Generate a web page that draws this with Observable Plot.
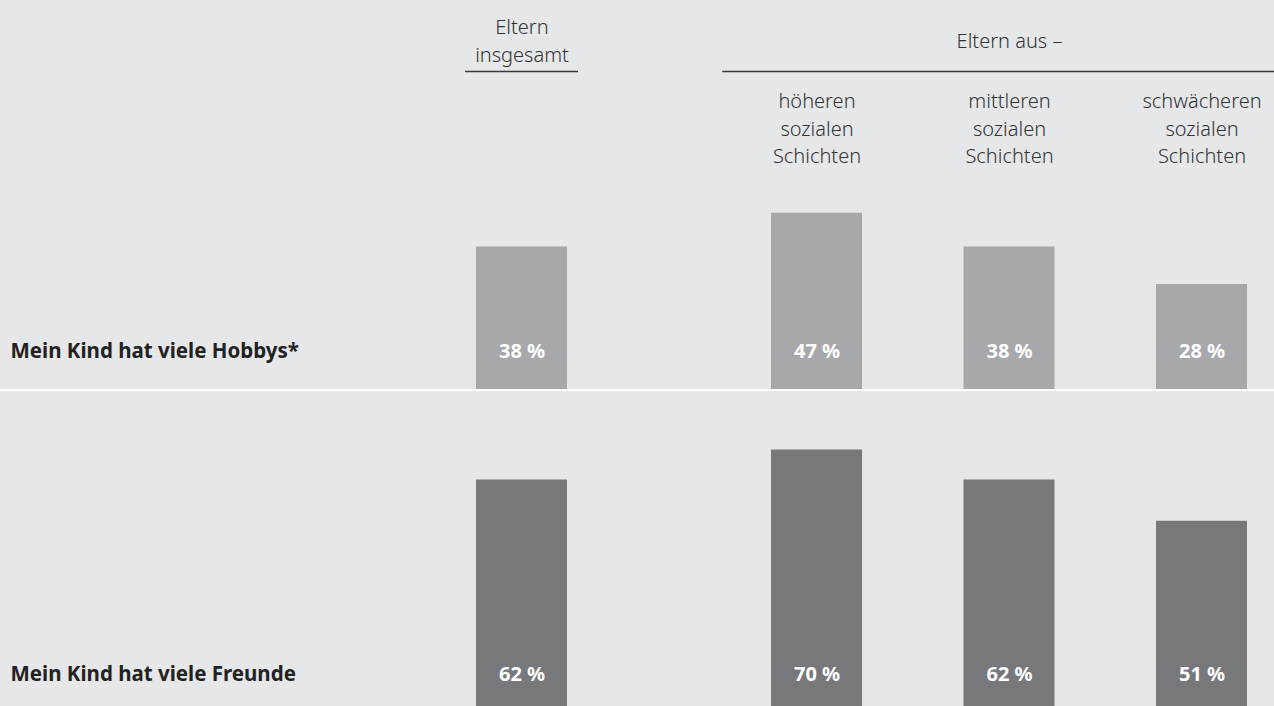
<!DOCTYPE html>
<html>
<head>
<meta charset="utf-8">
<script src="https://cdn.jsdelivr.net/npm/d3@7"></script>
<script src="https://cdn.jsdelivr.net/npm/@observablehq/plot@0.6"></script>
<style>
  html, body { margin: 0; padding: 0; background: #e6e7e9; }
  #chart { width: 1274px; height: 706px; overflow: hidden; background: #e6e7e9; }
  #chart svg { display: block; overflow: hidden; }
  .sep { height: 2px; background: #ffffff; }
</style>
</head>
<body>
<div id="chart"></div>
<script>
// ---- data ----
const columns = ["Eltern insgesamt", "höheren sozialen Schichten", "mittleren sozialen Schichten", "schwächeren sozialen Schichten"];
const columnLabels = ["", "höheren\nsozialen\nSchichten", "mittleren\nsozialen\nSchichten", "schwächeren\nsozialen\nSchichten"];
const columnGroup = [0, 1, 1, 1];
const groupLabels = ["Eltern\ninsgesamt", "Eltern aus –"];
const rowLabels = ["Mein Kind hat viele Hobbys*", "Mein Kind hat viele Freunde"];
const hobbys = [38, 47, 38, 28];
const freunde = [62, 70, 62, 51];

// ---- layout ----
const BG = "#e6e7e9";
const LIGHT = "#a7a8ab";
const DARK = "#77787c";
const FONT = "Noto Sans, Lato, sans-serif";
const FS = 20;
const FSB = 20.5;
const PX_PER_PCT = 3.75;
const GROUP_GAP = 0.5325;     // extra gap (in column steps) between groups
const HALF_BAR = 0.2364;      // half bar width in column steps
const slot = i => i + columnGroup[i] * GROUP_GAP;
const lastSlot = slot(columns.length - 1);

function rowData(values) {
  return values.map((v, i) => ({col: columns[i], i, value: v}));
}

const groups = groupLabels.map((g, gi) => {
  const idx = columnGroup.map((c, i) => c === gi ? i : -1).filter(i => i >= 0);
  const a = slot(idx[0]), b = slot(idx[idx.length - 1]);
  return {label: g, center: (a + b) / 2, first: a, last: b, single: idx.length === 1};
});

function rowPlot({values, label, fill, height, extent, header}) {
  const data = rowData(values);
  const yMax = extent / PX_PER_PCT;
  const marks = [
    Plot.rectY(data, {x1: d => slot(d.i) - HALF_BAR, x2: d => slot(d.i) + HALF_BAR, y: "value", fill}),
    Plot.text(data, {x: d => slot(d.i), y: d => 0, dy: -38, text: d => `${d.value} %`,
      fill: "white", fontWeight: "bold", fontSize: FS}),
    Plot.text([label], {frameAnchor: "left", y: d => 0, dx: 10, dy: -38, text: d => d,
      textAnchor: "start", fill: "#222", fontWeight: "bold", fontSize: FSB})
  ];
  if (header) {
    const g0 = [groups[0]], g1 = [groups[1]];
    marks.push(
      Plot.text(g0, {x: "center", frameAnchor: "top", lineAnchor: "top", dy: 14, text: "label",
        fill: "#333", fontSize: FS, fontWeight: 300, lineHeight: 1.39}),
      Plot.text(g1, {x: "center", frameAnchor: "top", lineAnchor: "top", dy: 28, text: "label",
        fill: "#333", fontSize: FS, fontWeight: 300, lineHeight: 1.39}),
      Plot.ruleY(groups, {y: d => yMax, dy: 71,
        x1: d => d.single ? d.first - 0.2935 : d.first - 0.49,
        x2: d => d.single ? d.last + 0.2935 : d.last + 0.5,
        stroke: "#3a3a3a", strokeWidth: 1.5}),
      Plot.text(columns.map((c, i) => ({i, label: columnLabels[i]})).filter(d => d.label),
        {x: d => slot(d.i), frameAnchor: "top", lineAnchor: "top", dy: 87.5, text: "label",
        fill: "#333", fontSize: FS, fontWeight: 300, lineHeight: 1.39})
    );
  }
  return Plot.plot({
    width: 1274, height, margin: 0,
    style: {background: BG, fontFamily: FONT, fontSize: FS + "px"},
    x: {domain: [0, lastSlot], range: [521.5, 1201.5], axis: null},
    y: {domain: [0, yMax], range: [extent, 0], axis: null},
    marks
  });
}

const chart = document.getElementById("chart");
chart.append(rowPlot({values: hobbys, label: rowLabels[0], fill: LIGHT, height: 389, extent: 389, header: true}));
const sep = document.createElement("div"); sep.className = "sep"; chart.append(sep);
chart.append(rowPlot({values: freunde, label: rowLabels[1], fill: DARK, height: 315, extent: 321, header: false}));
</script>
</body>
</html>
